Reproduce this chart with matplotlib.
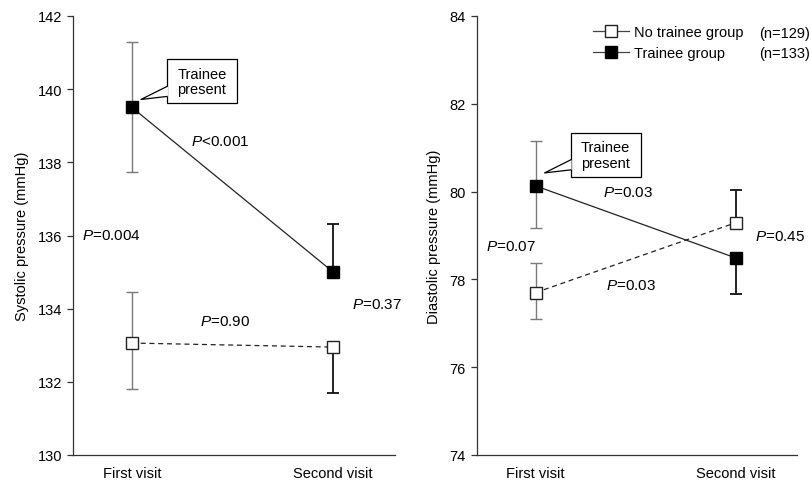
import matplotlib
matplotlib.use("Agg")
import matplotlib.pyplot as plt
import matplotlib.transforms as mtransforms
from matplotlib.patches import Rectangle, Polygon
from matplotlib.lines import Line2D

plt.rcParams["font.family"] = ["Liberation Sans", "DejaVu Sans"]
plt.rcParams["mathtext.fontset"] = "custom"
plt.rcParams["mathtext.rm"] = "Liberation Sans"
plt.rcParams["mathtext.it"] = "Liberation Sans:italic"

visits = ["First visit", "Second visit"]

# systolic (mmHg)
sys_trainee = [139.5, 135.0]
sys_trainee_lo = [1.77, 0.0]
sys_trainee_hi = [1.78, 1.31]
sys_none = [133.06, 132.95]
sys_none_lo = [1.25, 1.26]
sys_none_hi = [1.39, 0.0]

# diastolic (mmHg)
dia_trainee = [80.13, 78.49]
dia_trainee_lo = [0.96, 0.83]
dia_trainee_hi = [1.02, 0.0]
dia_none = [77.70, 79.29]
dia_none_lo = [0.61, 0.0]
dia_none_hi = [0.68, 0.74]

n_none, n_trainee = 129, 133

FS = 10.5
BAR_COLORS = ["#7a7a7a", "#111111"]
SPINE = "#333333"

fig = plt.figure(figsize=(8.12, 4.81), dpi=100)
ax1 = fig.add_axes([73 / 812, 1 - 456 / 481, 322 / 812, 439 / 481])
ax2 = fig.add_axes([477 / 812, 1 - 456 / 481, 320 / 812, 439 / 481])


def draw_panel(ax, tr, tr_lo, tr_hi, no, no_lo, no_hi, ylim, yticks, ylabel):
    x = list(range(len(visits)))
    for i in x:
        for vals, lo, hi in ((tr, tr_lo, tr_hi), (no, no_lo, no_hi)):
            ax.errorbar([i], [vals[i]], yerr=[[lo[i]], [hi[i]]], fmt="none",
                        ecolor=BAR_COLORS[i], elinewidth=1.0 if i == 0 else 1.3,
                        capsize=4.5, capthick=1.0 if i == 0 else 1.3, zorder=2)
    ax.plot(x, no, color="#222222", lw=0.9, ls=(0, (4, 3)), marker="s", ms=8,
            mfc="white", mec="#222222", mew=1.0, zorder=3)
    ax.plot(x, tr, color="#222222", lw=0.9, marker="s", ms=8,
            mfc="black", mec="black", zorder=3)
    ax.set_xlim(-0.293, 1.307)
    ax.set_ylim(*ylim)
    ax.set_yticks(yticks)
    ax.set_xticks(x)
    ax.set_xticklabels(visits)
    for s in ("top", "right"):
        ax.spines[s].set_visible(False)
    for s in ("left", "bottom"):
        ax.spines[s].set_color(SPINE)
        ax.spines[s].set_linewidth(0.9)
    ax.tick_params(axis="y", direction="out", length=4, width=0.9, color=SPINE,
                   labelsize=FS, pad=4)
    ax.tick_params(axis="x", length=0, labelsize=FS, pad=8)
    ax.set_ylabel(ylabel, fontsize=FS, labelpad=6)


def callout(ax, xy, rise):
    # speech-bubble box anchored to a marker; offsets are in pixels (1/100 in)
    trans = fig.dpi_scale_trans + mtransforms.ScaledTranslation(xy[0], xy[1], ax.transData)
    s = 0.01
    bx0, bx1, by0, by1 = 35 * s, 105 * s, (rise - 4) * s, (rise + 40) * s
    ax.add_patch(Rectangle((bx0, by0), bx1 - bx0, by1 - by0, transform=trans,
                           fc="white", ec="black", lw=0.9, clip_on=False, zorder=5))
    w0, w1 = (rise + 3) * s, (rise + 13) * s
    tip = (9 * s, rise * s)
    ax.add_patch(Polygon([(bx0 + 0.01, w0), (bx0 + 0.01, w1), tip], closed=True,
                         transform=trans, fc="white", ec="none", clip_on=False, zorder=6))
    ax.add_line(Line2D([bx0, tip[0], bx0], [w1, tip[1], w0], transform=trans,
                       color="black", lw=0.9, clip_on=False, zorder=7))
    ax.text((bx0 + bx1) / 2, (by0 + by1) / 2, "Trainee\npresent", transform=trans,
            ha="center", va="center", fontsize=FS, linespacing=1.15, zorder=8)


draw_panel(ax1, sys_trainee, sys_trainee_lo, sys_trainee_hi,
           sys_none, sys_none_lo, sys_none_hi, (130, 142), range(130, 143, 2),
           "Systolic pressure (mmHg)")
draw_panel(ax2, dia_trainee, dia_trainee_lo, dia_trainee_hi,
           dia_none, dia_none_lo, dia_none_hi, (74, 84), range(74, 85, 2),
           "Diastolic pressure (mmHg)")

callout(ax1, (0, sys_trainee[0]), 8)
callout(ax2, (0, dia_trainee[0]), 13)

pfs = FS + 0.5
ax1.text(-0.10, 136.0, "$P$=0.004", ha="center", va="center", fontsize=pfs)
ax1.text(0.44, 138.57, "$P$<0.001", ha="center", va="center", fontsize=pfs)
ax1.text(0.464, 133.67, "$P$=0.90", ha="center", va="center", fontsize=pfs)
ax1.text(1.217, 134.13, "$P$=0.37", ha="center", va="center", fontsize=pfs)

ax2.text(0.464, 79.99, "$P$=0.03", ha="center", va="center", fontsize=pfs)
ax2.text(-0.124, 78.75, "$P$=0.07", ha="center", va="center", fontsize=pfs)
ax2.text(0.478, 77.87, "$P$=0.03", ha="center", va="center", fontsize=pfs)
ax2.text(1.22, 78.98, "$P$=0.45", ha="center", va="center", fontsize=pfs)

handles = [
    Line2D([], [], color="#444444", lw=0.9, marker="s", ms=8, mfc="white", mec="#222222"),
    Line2D([], [], color="#444444", lw=0.9, marker="s", ms=8, mfc="black", mec="black"),
]
ax2.legend(handles, ["No trainee group", "Trainee group"], loc="upper left",
           bbox_to_anchor=(0.33, 1.003), frameon=False, fontsize=FS,
           handlelength=2.5, handletextpad=0.3, labelspacing=0.5, borderpad=0.2)
ax2.text(1.04, 0.962, f"(n={n_none})", transform=ax2.transAxes, ha="right",
         va="center", fontsize=FS)
ax2.text(1.04, 0.915, f"(n={n_trainee})", transform=ax2.transAxes, ha="right",
         va="center", fontsize=FS)

fig.savefig("out.png", dpi=100)
